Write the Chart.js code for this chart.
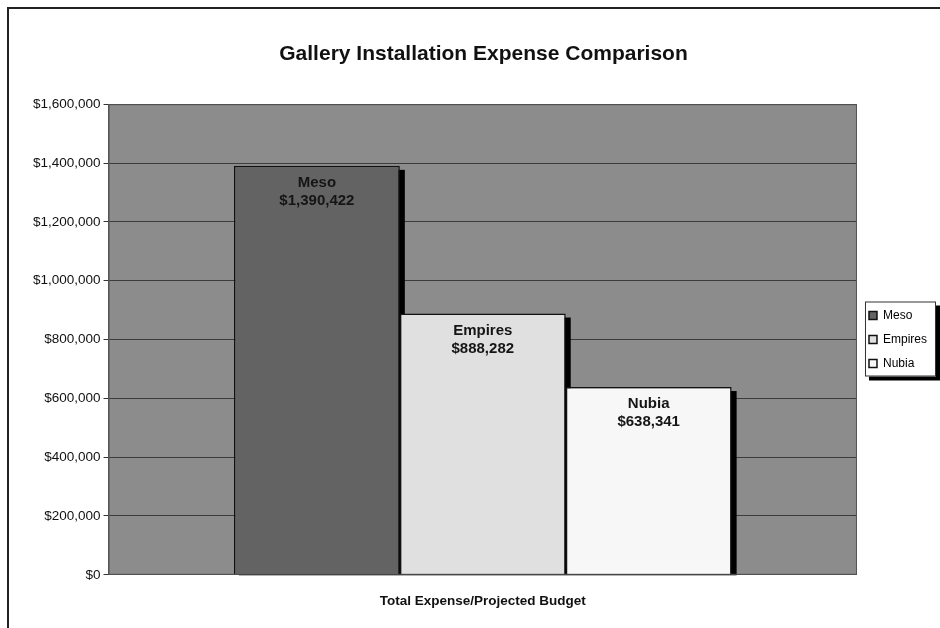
<!DOCTYPE html>
<html>
<head>
<meta charset="utf-8">
<script src="https://cdn.jsdelivr.net/npm/chart.js@4.4.1/dist/chart.umd.min.js"></script>
<style>
  html, body { margin: 0; padding: 0; background: #fff; }
  #wrap { position: relative; width: 940px; height: 628px; overflow: hidden; }
  #frame { position: absolute; left: 7px; top: 7px; width: 960px; height: 660px; border: 2px solid #222; box-sizing: border-box; pointer-events: none; }
</style>
</head>
<body>
<div id="wrap">
  <canvas id="chart" width="940" height="628"></canvas>
  <div id="frame"></div>
</div>
<script>
// chart data
const categories = ["Total Expense/Projected Budget"];
const seriesNames = ["Meso", "Empires", "Nubia"];
const seriesValues = [[1390422], [888282], [638341]];
const seriesColors = ["#636363", "#e0e0e0", "#f7f7f7"];
const yTicks = [0, 200000, 400000, 600000, 800000, 1000000, 1200000, 1400000, 1600000];

const FONT = "'Liberation Sans', Arial, sans-serif";
const money = v => "$" + Number(v).toLocaleString("en-US");

// grey plot area + border
const plotBackground = {
    id: "plotBackground",
    beforeDraw(chart) {
        const { ctx, chartArea: a } = chart;
        ctx.save();
        ctx.fillStyle = "#8c8c8c";
        ctx.fillRect(a.left, a.top, a.right - a.left, a.bottom - a.top);
        ctx.restore();
    },
    afterDraw(chart) {
        const { ctx, chartArea: a } = chart;
        ctx.save();
        ctx.strokeStyle = "#555";
        ctx.lineWidth = 1;
        ctx.strokeRect(a.left + 0.5, a.top + 0.5, a.right - a.left - 1, a.bottom - a.top - 1);
        ctx.restore();
    }
};

// black drop shadow to the right of each bar
const barShadow = {
    id: "barShadow",
    beforeDatasetsDraw(chart) {
        const ctx = chart.ctx;
        ctx.save();
        ctx.fillStyle = "#000";
        chart.data.datasets.forEach((ds, i) => {
            const bar = chart.getDatasetMeta(i).data[0];
            const left = bar.x - bar.width / 2;
            ctx.fillRect(left + 5, bar.y + 4, bar.width, bar.base - bar.y - 3);
        });
        ctx.restore();
    }
};

// name + value labels inside top of each bar
const barLabels = {
    id: "barLabels",
    afterDatasetsDraw(chart) {
        const ctx = chart.ctx;
        ctx.save();
        ctx.font = "bold 15px " + FONT;
        ctx.fillStyle = "#151515";
        ctx.textAlign = "center";
        ctx.textBaseline = "middle";
        chart.data.datasets.forEach((ds, i) => {
            const bar = chart.getDatasetMeta(i).data[0];
            ctx.fillText(ds.label, bar.x, bar.y + 17);
            ctx.fillText(money(ds.data[0]), bar.x, bar.y + 35);
        });
        ctx.restore();
    }
};

// white box with black shadow behind the legend items
const legendBox = {
    id: "legendBox",
    beforeDraw(chart) {
        const l = chart.legend;
        if (!l || !l.legendHitBoxes || !l.legendHitBoxes.length) return;
        const hb = l.legendHitBoxes;
        const x = Math.min(...hb.map(h => h.left)) - 4;
        const top = Math.min(...hb.map(h => h.top)) - 8;
        const bottom = Math.max(...hb.map(h => h.top + h.height)) + 7;
        const w = 71, h = bottom - top;
        const ctx = chart.ctx;
        ctx.save();
        ctx.fillStyle = "#000";
        ctx.fillRect(x + 4, top + 4, w, h);
        ctx.fillStyle = "#fff";
        ctx.fillRect(x, top, w, h);
        ctx.strokeStyle = "#333";
        ctx.lineWidth = 1;
        ctx.strokeRect(x + 0.5, top + 0.5, w - 1, h - 1);
        ctx.restore();
    }
};

new Chart(document.getElementById("chart").getContext("2d"), {
    type: "bar",
    data: {
        labels: categories,
        datasets: seriesNames.map((name, i) => ({
            label: name,
            data: seriesValues[i],
            backgroundColor: seriesColors[i],
            borderColor: "#111",
            borderWidth: 1.5,
            categoryPercentage: 0.665,
            barPercentage: 1.0
        }))
    },
    options: {
        responsive: false,
        animation: false,
        layout: { padding: { left: 30, right: 3, top: 0, bottom: 1 } },
        plugins: {
            title: {
                display: true,
                text: "Gallery Installation Expense Comparison",
                color: "#111",
                font: { family: FONT, size: 21, weight: "bold" },
                padding: { top: 42, bottom: 37 }
            },
            legend: {
                position: "right",
                fullSize: false,
                labels: {
                    color: "#111",
                    font: { family: FONT, size: 12 },
                    boxWidth: 8,
                    boxHeight: 8,
                    padding: 12,
                    generateLabels(chart) {
                        return chart.data.datasets.map((ds, i) => ({
                            text: ds.label,
                            fillStyle: ds.backgroundColor,
                            strokeStyle: "#111",
                            lineWidth: 1.5,
                            datasetIndex: i
                        }));
                    }
                }
            },
            tooltip: { enabled: false }
        },
        scales: {
            x: {
                grid: { display: false, drawTicks: false },
                border: { display: false },
                ticks: {
                    color: "#111",
                    padding: 18,
                    font: { family: FONT, size: 13.5, weight: "bold" }
                }
            },
            y: {
                min: 0,
                max: 1600000,
                afterBuildTicks(axis) {
                    axis.ticks = yTicks.map(v => ({ value: v }));
                },
                grid: { color: "#3c3c3c", lineWidth: 1, tickLength: 5, tickColor: "#333" },
                border: { display: true, color: "#555" },
                ticks: {
                    color: "#111",
                    padding: 3,
                    font: { family: FONT, size: 13.5 },
                    callback: v => money(v)
                }
            }
        }
    },
    plugins: [plotBackground, barShadow, barLabels, legendBox]
});
</script>
</body>
</html>
